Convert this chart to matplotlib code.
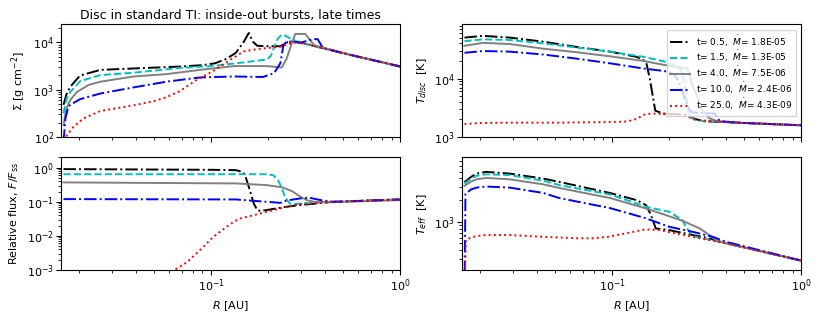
import numpy as np
import matplotlib
matplotlib.use("Agg")
import matplotlib.pyplot as plt

# ---------------- data (log10 of the quantity) ----------------
labels = [r't= 0.5,  $\dot{M}$= 1.8E-05', r't= 1.5,  $\dot{M}$= 1.3E-05',
          r't= 4.0,  $\dot{M}$= 7.5E-06', r't= 10.0,  $\dot{M}$= 2.4E-06',
          r't= 25.0,  $\dot{M}$= 4.3E-09']

# Surface density, log10 Sigma [g cm^-2]
sig_R_t05 = [0.0166, 0.0172, 0.018, 0.0203, 0.026, 0.039, 0.068, 0.09, 0.105, 0.12, 0.135, 0.148, 0.158, 0.166, 0.175, 0.2, 0.232, 0.252, 0.265, 0.3, 0.54, 1.0]
sig_t05 = [2.68, 2.9, 3.06, 3.3, 3.42, 3.45, 3.49, 3.52, 3.56, 3.65, 3.78, 4.0, 4.20, 4.02, 3.93, 3.92, 3.92, 4.0, 4.02, 3.99, 3.74, 3.49]
sig_R_t15 = [0.0166, 0.0172, 0.018, 0.0203, 0.026, 0.039, 0.068, 0.1, 0.15, 0.197, 0.207, 0.215, 0.225, 0.235, 0.245, 0.26, 0.28, 0.3, 0.54, 1.0]
sig_t15 = [2.5, 2.8, 2.95, 3.18, 3.31, 3.36, 3.46, 3.5, 3.58, 3.64, 3.72, 3.9, 4.08, 4.16, 4.15, 4.09, 4.03, 3.99, 3.74, 3.49]
sig_R_t4 = [0.0166, 0.0172, 0.018, 0.0195, 0.0225, 0.026, 0.039, 0.058, 0.0875, 0.132, 0.197, 0.236, 0.25, 0.265, 0.278, 0.314, 0.33, 0.35, 0.54, 1.0]
sig_t4 = [2.25, 2.6, 2.78, 2.95, 3.1, 3.17, 3.28, 3.33, 3.42, 3.50, 3.50, 3.47, 3.65, 3.95, 4.18, 4.18, 4.07, 3.94, 3.74, 3.49]
sig_R_t10 = [0.0166, 0.0170, 0.0175, 0.018, 0.0203, 0.026, 0.039, 0.058, 0.0875, 0.132, 0.188, 0.215, 0.232, 0.241, 0.251, 0.3, 0.345, 0.365, 0.39, 0.54, 1.0]
sig_t10 = [1.9, 2.4, 2.6, 2.68, 2.8, 2.92, 3.05, 3.17, 3.26, 3.28, 3.27, 3.35, 3.56, 3.95, 4.02, 4.0, 4.07, 4.07, 3.88, 3.74, 3.49]
sig_R_t25 = [0.0166, 0.0172, 0.0187, 0.0211, 0.026, 0.039, 0.05, 0.058, 0.0683, 0.084, 0.103, 0.126, 0.148, 0.175, 0.232, 0.272, 0.32, 0.54, 1.0]
sig_t25 = [1.8, 2.02, 2.21, 2.39, 2.55, 2.67, 2.76, 2.84, 2.97, 3.21, 3.40, 3.63, 3.81, 3.86, 3.91, 4.0, 3.97, 3.74, 3.49]

# Disc temperature, log10 T_disc [K]
td_R_t05 = [0.0166, 0.0208, 0.0288, 0.0434, 0.065, 0.0975, 0.135, 0.147, 0.152, 0.158, 0.164, 0.169, 0.187, 0.22, 0.243, 0.259, 0.28, 0.304, 0.495, 1.0]
td_t05 = [4.70, 4.73, 4.70, 4.63, 4.54, 4.46, 4.37, 4.31, 4.25, 4.0, 3.7, 3.45, 3.40, 3.39, 3.38, 3.34, 3.30, 3.27, 3.24, 3.20]
td_R_t15 = [0.0166, 0.0208, 0.0288, 0.0434, 0.065, 0.0975, 0.147, 0.19, 0.215, 0.232, 0.24, 0.248, 0.256, 0.27, 0.304, 0.495, 1.0]
td_t15 = [4.64, 4.67, 4.66, 4.60, 4.53, 4.46, 4.37, 4.29, 4.22, 4.15, 3.95, 3.6, 3.36, 3.30, 3.27, 3.24, 3.20]
td_R_t4 = [0.0166, 0.0208, 0.0288, 0.0434, 0.065, 0.0975, 0.147, 0.19, 0.23, 0.25, 0.265, 0.282, 0.30, 0.326, 0.36, 0.495, 1.0]
td_t4 = [4.56, 4.61, 4.59, 4.51, 4.45, 4.38, 4.30, 4.23, 4.19, 4.17, 3.9, 3.68, 3.45, 3.32, 3.27, 3.24, 3.20]
td_R_t10 = [0.0166, 0.0208, 0.0288, 0.0434, 0.065, 0.0975, 0.147, 0.187, 0.205, 0.215, 0.225, 0.235, 0.245, 0.255, 0.265, 0.30, 0.35, 0.36, 0.37, 0.495, 1.0]
td_t10 = [4.44, 4.47, 4.46, 4.41, 4.34, 4.26, 4.17, 4.13, 4.10, 4.05, 3.95, 3.78, 3.6, 3.47, 3.42, 3.41, 3.40, 3.33, 3.27, 3.24, 3.20]
td_R_t25 = [0.0166, 0.02, 0.03, 0.05, 0.0975, 0.12, 0.135, 0.147, 0.16, 0.22, 0.25, 0.275, 0.33, 0.495, 1.0]
td_t25 = [3.22, 3.24, 3.245, 3.245, 3.255, 3.265, 3.31, 3.38, 3.40, 3.39, 3.35, 3.30, 3.27, 3.24, 3.20]

# Relative flux, log10 F/F_ss
fx_R_t05 = [0.0166, 0.1, 0.135, 0.146, 0.151, 0.158, 0.168, 0.175, 0.182, 0.197, 0.24, 0.296, 0.36, 0.44, 1.0]
fx_t05 = [-0.04, -0.06, -0.07, -0.12, -0.21, -0.56, -1.05, -1.24, -1.27, -1.24, -1.16, -1.09, -1.05, -1.0, -0.93]
fx_R_t15 = [0.0166, 0.197, 0.213, 0.225, 0.235, 0.245, 0.26, 0.27, 0.296, 0.44, 1.0]
fx_t15 = [-0.19, -0.19, -0.22, -0.36, -0.56, -0.85, -1.05, -1.07, -1.05, -1.0, -0.93]
fx_R_t4 = [0.0166, 0.135, 0.197, 0.24, 0.27, 0.296, 0.32, 0.35, 0.5, 1.0]
fx_t4 = [-0.43, -0.46, -0.51, -0.58, -0.70, -0.85, -0.95, -1.0, -1.0, -0.95]
fx_R_t10 = [0.0166, 0.135, 0.197, 0.232, 0.25, 0.296, 0.33, 0.38, 0.44, 1.0]
fx_t10 = [-0.92, -0.93, -1.0, -1.03, -0.96, -0.90, -0.88, -0.95, -1.0, -0.93]
fx_R_t25 = [0.055, 0.064, 0.075, 0.0875, 0.103, 0.121, 0.132, 0.142, 0.168, 0.197, 0.252, 0.296, 0.44, 1.0]
fx_t25 = [-3.2, -3.0, -2.76, -2.41, -2.02, -1.73, -1.58, -1.49, -1.39, -1.29, -1.14, -1.07, -1.0, -0.93]

# Effective temperature, log10 T_eff [K]
te_R_t05 = [0.0166, 0.018, 0.0192, 0.0216, 0.0288, 0.0434, 0.0525, 0.0975, 0.135, 0.151, 0.16, 0.17, 0.2, 0.266, 0.313, 0.40, 1.0]
te_t05 = [3.55, 3.625, 3.67, 3.694, 3.67, 3.60, 3.555, 3.40, 3.30, 3.231, 3.10, 2.907, 2.884, 2.815, 2.78, 2.70, 2.458]
te_R_t15 = [0.0166, 0.018, 0.0192, 0.0216, 0.0288, 0.0434, 0.0525, 0.0975, 0.151, 0.2, 0.235, 0.245, 0.266, 0.40, 1.0]
te_t15 = [3.53, 3.60, 3.64, 3.66, 3.65, 3.57, 3.51, 3.38, 3.208, 3.139, 3.023, 2.93, 2.80, 2.70, 2.458]
te_R_t4 = [0.0166, 0.018, 0.0192, 0.0216, 0.0288, 0.0434, 0.0525, 0.0975, 0.151, 0.235, 0.29, 0.326, 0.36, 0.40, 1.0]
te_t4 = [3.50, 3.56, 3.59, 3.61, 3.59, 3.52, 3.47, 3.33, 3.185, 3.014, 2.907, 2.815, 2.73, 2.70, 2.458]
te_R_t10 = [0.0166, 0.0168, 0.018, 0.0192, 0.0216, 0.0288, 0.0434, 0.0525, 0.0975, 0.15, 0.2, 0.266, 0.34, 0.40, 1.0]
te_t10 = [2.0, 3.39, 3.45, 3.475, 3.49, 3.475, 3.40, 3.33, 3.19, 3.05, 2.93, 2.86, 2.79, 2.72, 2.458]
te_R_t25 = [0.0166, 0.0169, 0.018, 0.0192, 0.0216, 0.0288, 0.0434, 0.065, 0.0787, 0.095, 0.118, 0.15, 0.177, 0.266, 0.40, 1.0]
te_t25 = [2.0, 2.75, 2.78, 2.80, 2.815, 2.815, 2.79, 2.77, 2.769, 2.79, 2.838, 2.894, 2.884, 2.79, 2.70, 2.458]

# ---------------- styles ----------------
styles = [dict(color='k', ls='-.'), dict(color='c', ls='--'), dict(color='gray', ls='-'),
          dict(color='b', ls='-.'), dict(color='r', ls=':')]
LW = 1.4

plt.rcParams['font.family'] = ['DejaVu Sans']
plt.rcParams['mathtext.fontset'] = 'dejavusans'

fig = plt.figure(figsize=(8.22, 3.16), dpi=100)
axL = 0.0742; axR = 0.5620; W = 0.4130
yT = 0.5665; yB = 0.1456; H = 0.356
ax_sig = fig.add_axes([axL, yT, W, H])
ax_td = fig.add_axes([axR, yT, W, H])
ax_fx = fig.add_axes([axL, yB, W, H])
ax_te = fig.add_axes([axR, yB, W, H])

def draw(ax, Rs, Ys, with_label=False):
    for i, (r, y) in enumerate(zip(Rs, Ys)):
        ax.plot(r, 10 ** np.asarray(y), lw=LW, label=labels[i] if with_label else None, **styles[i])

draw(ax_sig, [sig_R_t05, sig_R_t15, sig_R_t4, sig_R_t10, sig_R_t25], [sig_t05, sig_t15, sig_t4, sig_t10, sig_t25])
draw(ax_td, [td_R_t05, td_R_t15, td_R_t4, td_R_t10, td_R_t25], [td_t05, td_t15, td_t4, td_t10, td_t25], True)
draw(ax_fx, [fx_R_t05, fx_R_t15, fx_R_t4, fx_R_t10, fx_R_t25], [fx_t05, fx_t15, fx_t4, fx_t10, fx_t25])
draw(ax_te, [te_R_t05, te_R_t15, te_R_t4, te_R_t10, te_R_t25], [te_t05, te_t15, te_t4, te_t10, te_t25])

for ax in (ax_sig, ax_td, ax_fx, ax_te):
    ax.set_xscale('log'); ax.set_yscale('log')
    ax.set_xlim(0.0161, 1.0)
    ax.tick_params(labelsize=8, pad=1.6)

ax_sig.set_ylim(100, 2.4e4)
ax_td.set_ylim(1000, 8.4e4)
ax_fx.set_ylim(1e-3, 2.0)
ax_te.set_ylim(213, 7840)

for ax in (ax_sig, ax_td):
    ax.tick_params(labelbottom=False)

ax_sig.set_title('Disc in standard TI: inside-out bursts, late times', fontsize=9, pad=4)
ax_sig.set_ylabel(r'$\Sigma$ [g cm$^{-2}$]', fontsize=8)
ax_td.set_ylabel(r'$T_{disc}$  [K]', fontsize=8)
ax_fx.set_ylabel(r'Relative flux, $F/F_{\rm ss}$', fontsize=8)
ax_te.set_ylabel(r'$T_{eff}$  [K]', fontsize=8)
ax_fx.set_xlabel(r'$R$ [AU]', fontsize=8)
ax_te.set_xlabel(r'$R$ [AU]', fontsize=8)

ax_td.legend(loc='upper right', fontsize=6.5, handlelength=2.2, handletextpad=0.6,
             labelspacing=0.1, borderpad=0.4, borderaxespad=0.6, fancybox=False)

fig.savefig('out.png', dpi=100)
